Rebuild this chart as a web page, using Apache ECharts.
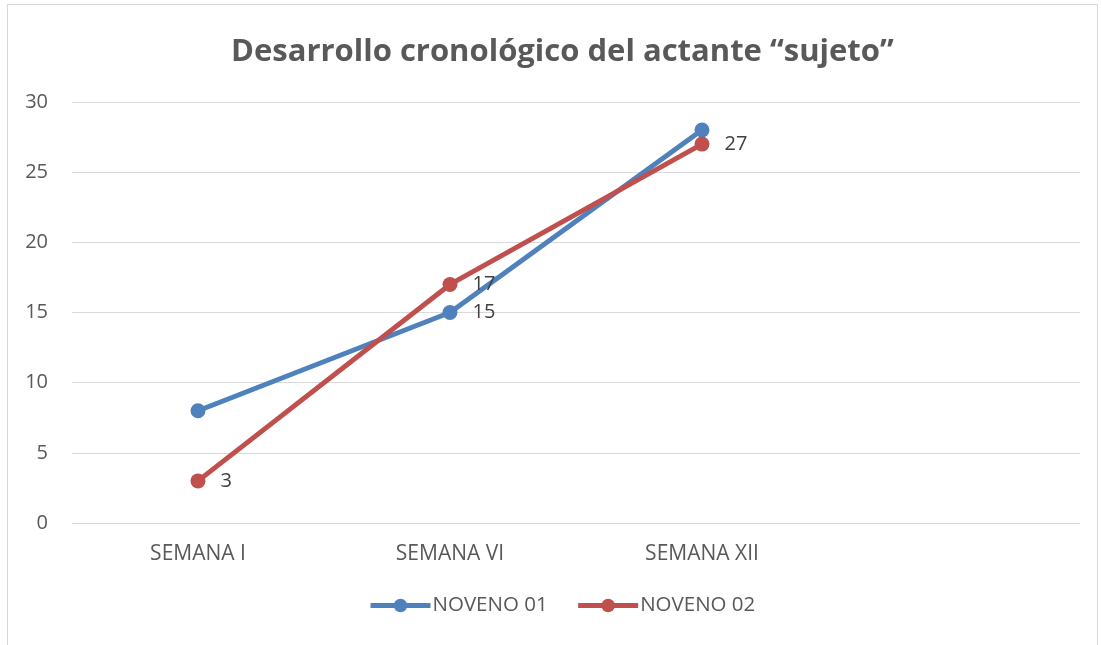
<!DOCTYPE html>
<html><head><meta charset="utf-8">
<script src="https://cdn.jsdelivr.net/npm/echarts@6/dist/echarts.min.js"></script>
<style>html,body{margin:0;padding:0;background:#fff}#c{width:1101px;height:645px}
#frame{position:absolute;left:7px;top:4px;width:1089px;height:650px;border:1px solid #d9d9d9;pointer-events:none}</style>
</head><body><div id="c"></div><div id="frame"></div>
<script>
const titleText = 'Desarrollo cronológico del actante “sujeto”';
const categories = ['SEMANA I', 'SEMANA VI', 'SEMANA XII', ''];
const noveno01 = [8, 15, 28, null];
const noveno02 = [3, 17, 27, null];
const labels01 = [false, true, false, false];
const labels02 = [true, true, true, false];
const yTicks = [0, 5, 10, 15, 20, 25, 30];

const font = '"Open Sans", "Liberation Sans", sans-serif';
function mk(vals, show) {
  return vals.map((v, i) => ({ value: v, label: { show: show[i] } }));
}
const chart = echarts.init(document.getElementById('c'), null, { renderer: 'canvas' });
chart.setOption({
  animation: false,
  title: { text: titleText, left: 226, top: 32,
    textStyle: { fontFamily: font, fontWeight: 'bold', fontSize: 31, color: '#595959' } },
  grid: { left: 72, right: 21, top: 102, bottom: 122 },
  legend: { bottom: 24, left: 363, itemWidth: 60, itemHeight: 17, itemGap: 28,
    lineStyle: { width: 5 },
    textStyle: { fontFamily: font, fontSize: 20.5, color: '#595959', padding: [0, 0, 0, -3] },
    data: ['NOVENO 01', 'NOVENO 02'] },
  xAxis: { type: 'category', data: categories, boundaryGap: true,
    axisLine: { lineStyle: { color: '#d9d9d9', width: 1 } }, axisTick: { show: false },
    axisLabel: { fontFamily: font, fontSize: 21, color: '#595959', margin: 21 } },
  yAxis: { type: 'value', min: yTicks[0], max: yTicks[yTicks.length - 1], interval: 5,
    axisLine: { show: false }, axisTick: { show: false },
    splitLine: { lineStyle: { color: '#d9d9d9', width: 1 } },
    axisLabel: { fontFamily: font, fontSize: 20, color: '#595959', margin: 24 } },
  series: [
    { name: 'NOVENO 01', type: 'line', data: mk(noveno01, labels01), symbol: 'circle', symbolSize: 15,
      lineStyle: { width: 5, color: '#4F81BD' }, itemStyle: { color: '#4F81BD' },
      label: { position: 'right', distance: 15, fontFamily: font, fontSize: 20, color: '#404040' } },
    { name: 'NOVENO 02', type: 'line', data: mk(noveno02, labels02), symbol: 'circle', symbolSize: 15,
      lineStyle: { width: 5, color: '#C0504D' }, itemStyle: { color: '#C0504D' },
      label: { position: 'right', distance: 15, fontFamily: font, fontSize: 20, color: '#404040' } }
  ]
});
</script></body></html>
